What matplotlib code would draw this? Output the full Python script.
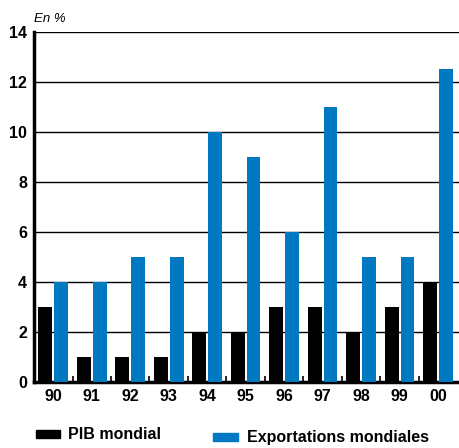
import numpy as np
import matplotlib.pyplot as plt
from matplotlib.patches import Rectangle

plt.rcParams['font.family'] = ['Liberation Sans', 'DejaVu Sans']

# Croissance annuelle, en %
annees = ["90", "91", "92", "93", "94", "95", "96", "97", "98", "99", "00"]
pib = [3, 1, 1, 1, 2, 2, 3, 3, 2, 3, 4]
exportations = [4, 4, 5, 5, 10, 9, 6, 11, 5, 5, 12.5]

bleu = "#0079c2"
x = np.arange(len(annees))
w = 0.36

fig = plt.figure(figsize=(4.6, 4.48), dpi=100)
ax = fig.add_axes([0.074, 0.147, 0.926, 0.782])

ax.bar(x - 0.205, pib, width=w, color="black", zorder=3)
ax.bar(x + 0.205, exportations, width=w, color=bleu, zorder=3)

ax.set_xlim(-0.5, 10.57)
ax.set_ylim(0, 14)
ax.set_yticks(range(0, 15, 2))
ax.set_xticks(x)
ax.set_xticklabels(annees)
ax.set_xticks(x[:-1] + 0.5, minor=True)

ax.grid(axis="y", color="black", linewidth=1, zorder=0)
ax.tick_params(axis="both", which="major", length=0, labelsize=11.5, pad=5)
ax.tick_params(axis="x", which="minor", direction="in", length=4, width=1.2)
for lab in ax.get_xticklabels() + ax.get_yticklabels():
    lab.set_fontweight("bold")

for s in ["top", "right"]:
    ax.spines[s].set_visible(False)
ax.spines["left"].set_linewidth(2.5)
ax.spines["bottom"].set_linewidth(2.5)

fig.text(0.074, 0.944, "En %", fontsize=9.5, style="italic", va="bottom")

# Légende
fig.patches.append(Rectangle((36 / 460, 1 - 438 / 448), 24 / 460, 8 / 448,
                             transform=fig.transFigure, color="black"))
fig.text(68 / 460, 1 - 434 / 448, "PIB mondial", fontsize=11.5, fontweight="bold", va="center")
fig.patches.append(Rectangle((213 / 460, 1 - 441 / 448), 25 / 460, 8 / 448,
                             transform=fig.transFigure, color=bleu))
fig.text(247 / 460, 1 - 437 / 448, "Exportations mondiales", fontsize=11.5, fontweight="bold", va="center")

fig.savefig("out.png", dpi=100)
